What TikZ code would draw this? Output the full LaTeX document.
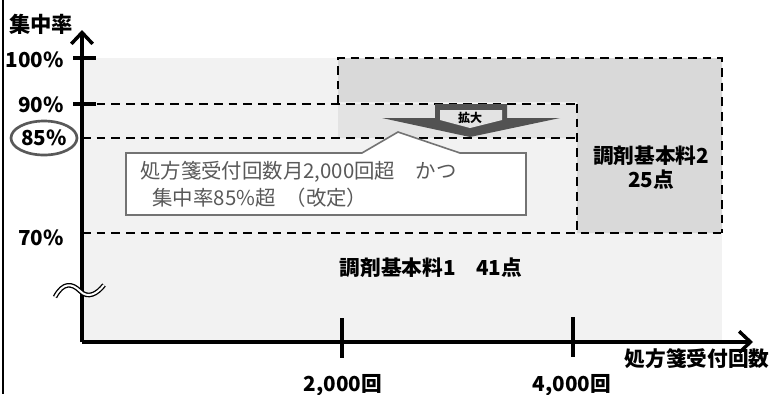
\documentclass[tikz,border=0pt]{standalone}
\usepackage{fontspec}
\setmainfont{Noto Sans CJK JP}
\usetikzlibrary{arrows.meta, shapes.geometric}

\begin{document}
\begin{tikzpicture}[
    x=0.75pt, y=-0.75pt,
    lbl/.style={font=\fontsize{15.5}{18}\selectfont\bfseries, inner sep=0pt},
    note/.style={font=\fontsize{15.3}{20.5}\selectfont, text=black!65, align=left, inner sep=0pt},
    axis/.style={line width=3.6pt, -{Straight Barb[length=8.5pt, width=16pt, line width=2.6pt]}},
    tickmark/.style={line width=3.6pt},
    dashline/.style={line width=2.1pt, dash pattern=on 6.5pt off 4.5pt},
    area/.style={draw=none}
]
\useasboundingbox (0,0) rectangle (776,394);

% frame line on the left
\draw[line width=1.2pt] (3,0) -- (3,394);

% shaded areas
\fill[black!5] (82,58) rectangle (722,342);
\fill[black!15] (338,58) -- (722,58) -- (722,233) -- (577,233) -- (577,102) -- (338,102) -- cycle;
\fill[black!11] (338,104) rectangle (577,138);

% dashed borders
\draw[dashline] (82,104) -- (577,104);
\draw[dashline] (82,138) -- (577,138);
\draw[dashline] (82,233) -- (722,233);
\draw[dashline] (338,104) -- (338,58) -- (722,58) -- (722,233);
\draw[dashline] (577,104) -- (577,233);

% enlargement arrow
\fill[black!68] (435,104) -- (507,104) -- (507,118) -- (560,118) -- (470,137) -- (382,118) -- (435,118) -- cycle;
\fill[black!11] (440,110) -- (502,110) -- (502,120) -- (470,128) -- (440,120) -- cycle;
\node (expand) [font=\fontsize{9}{10}\selectfont\bfseries, inner sep=0pt] at (470,118) {拡大};

% callout
\draw[draw=black!55, line width=1.2pt, fill=white] (126,153) -- (362,153) -- (398,132) -- (460,153) -- (526,153) -- (526,215) -- (126,215) -- cycle;
\node (cond) [note, anchor=north west] at (140,161) {処方箋受付回数月2,000回超　かつ\\\hspace{0.6em}集中率85\%超\hspace{0.5em}（改定）};

% axes
\coordinate (origin) at (82,342);
\coordinate (ytop) at (82,30);
\coordinate (xend) at (753,342);
\draw[axis] (origin) -- (ytop);
\draw[axis] (origin) -- (xend);
\draw[tickmark] (73,58) -- (96,58);
\draw[tickmark] (73,104) -- (96,104);
\draw[tickmark] (342,318) -- (342,358);
\draw[tickmark] (573,317) -- (573,357);

% axis break
\draw[line width=1pt, double=white, double distance=1.5pt]
    (55,297) .. controls (63,282) and (72,283) .. (80,291) .. controls (88,299) and (97,294) .. (104,285);

% labels
\node (ylabel) [lbl, font=\fontsize{16}{18}\selectfont\bfseries] at (41,24) {集中率};
\node (p100) [lbl, anchor=east] at (64,60) {100\%};
\node (p90) [lbl, anchor=east] at (64,105) {90\%};
\node (p85) [lbl] at (44,138) {85\%};
\draw[draw=black!65, line width=2pt] (p85) ellipse [x radius=33, y radius=17];
\node (p70) [lbl, anchor=east] at (64,238) {70\%};
\node (fee1) [lbl] at (431,268) {調剤基本料1　41点};
\node (fee2) [lbl, align=center, font=\fontsize{15.5}{18}\selectfont\bfseries] at (651,168) {調剤基本料2\\25点};
\node (xlabel) [lbl] at (697,359) {処方箋受付回数};
\node (n2000) [lbl] at (343,385) {2,000回};
\node (n4000) [lbl] at (572,385) {4,000回};

\end{tikzpicture}
\end{document}
